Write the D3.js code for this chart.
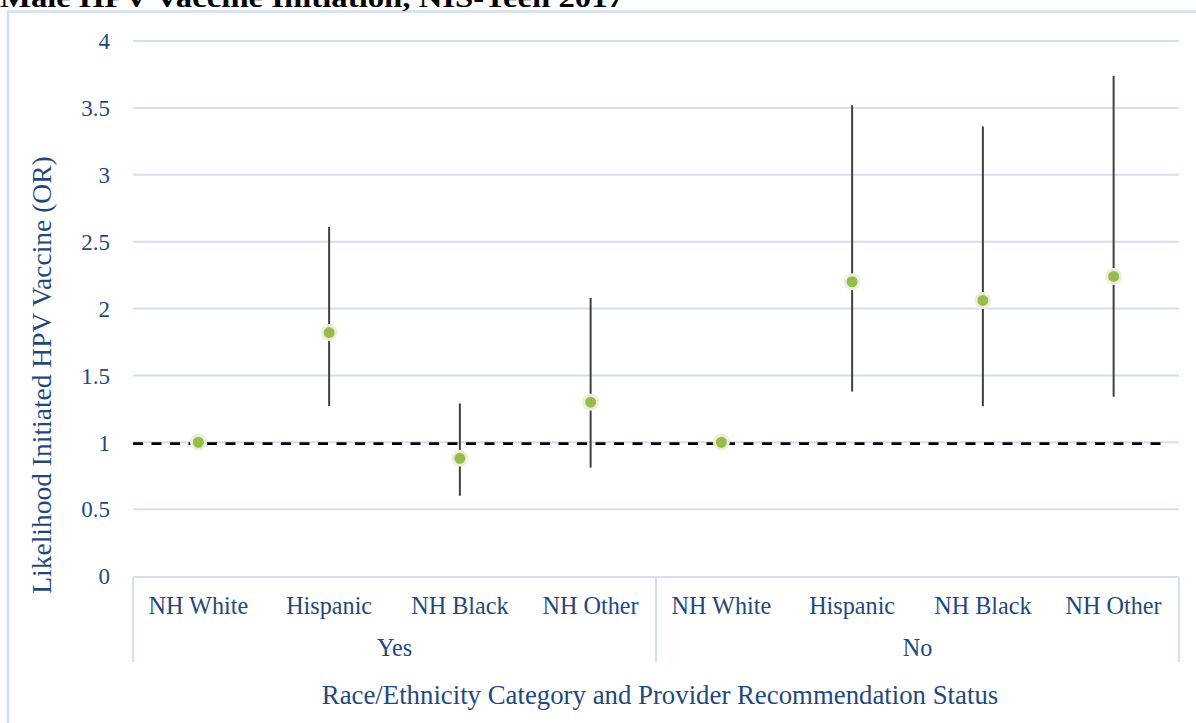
<!DOCTYPE html>
<html>
<head>
<meta charset="utf-8">
<script src="https://cdn.jsdelivr.net/npm/d3@7"></script>
<style>
  html, body { margin: 0; padding: 0; background: #fff; }
  svg { display: block; }
</style>
</head>
<body>
<svg id="chart" width="1196" height="723"></svg>
<script>
// ---- data ----
const categories = ["NH White", "Hispanic", "NH Black", "NH Other", "NH White", "Hispanic", "NH Black", "NH Other"];
const groups = ["Yes", "Yes", "Yes", "Yes", "No", "No", "No", "No"];
const groupLabels = ["Yes", "No"];
const oddsRatio = [1.00, 1.82, 0.88, 1.30, 1.00, 2.20, 2.06, 2.24];
const ciLower = [null, 1.27, 0.60, 0.81, null, 1.38, 1.27, 1.34];
const ciUpper = [null, 2.61, 1.29, 2.08, null, 3.52, 3.36, 3.74];
const yTicks = [0, 0.5, 1, 1.5, 2, 2.5, 3, 3.5, 4];
const referenceValue = 0.99;
const titleText = "Male HPV Vaccine Initiation, NIS-Teen 2017";
const yTitle = "Likelihood Initiated HPV Vaccine (OR)";
const xTitle = "Race/Ethnicity Category and Provider Recommendation Status";

// ---- layout ----
const svg = d3.select("#chart");
const textColor = "#1F497D";
const gridColor = "#D3E0F1";
const font = "'Liberation Serif', 'Times New Roman', serif";
const plot = { left: 133, right: 1179, top: 41, bottom: 576 };

const idx = d3.range(categories.length);
const x = d3.scaleBand().domain(idx).range([plot.left, plot.right]).paddingInner(0).paddingOuter(0);
const y = d3.scaleLinear().domain([0, 4]).range([plot.bottom, plot.top]);

// chart frame border
svg.append("path")
  .attr("d", `M8,723 L8,11.5 L1196,11.5`)
  .attr("fill", "none").attr("stroke", gridColor).attr("stroke-width", 2.5);

// title (partially clipped at top)
svg.append("text")
  .attr("x", 0).attr("y", 7)
  .attr("font-family", font).attr("font-weight", "bold").attr("font-size", 28)
  .attr("fill", "#000")
  .attr("textLength", 624).attr("lengthAdjust", "spacingAndGlyphs")
  .text(titleText);

// gridlines
svg.append("g").selectAll("line").data(yTicks.filter(d => d > 0)).join("line")
  .attr("x1", plot.left).attr("x2", plot.right)
  .attr("y1", d => y(d)).attr("y2", d => y(d))
  .attr("stroke", gridColor).attr("stroke-width", 2);

// y axis (labels only)
const yAxis = d3.axisLeft(y).tickValues(yTicks).tickSize(0).tickPadding(0).tickFormat(d3.format("~g"));
const gy = svg.append("g").attr("transform", `translate(110,0)`).call(yAxis);
gy.select(".domain").remove();
gy.attr("font-family", font);
gy.selectAll("text")
  .attr("font-family", font).attr("font-size", 23).attr("fill", textColor).attr("dy", "0.34em");

// x axis line & separators
svg.append("line")
  .attr("x1", plot.left).attr("x2", plot.right)
  .attr("y1", y(0) + 1).attr("y2", y(0) + 1)
  .attr("stroke", gridColor).attr("stroke-width", 2);
const sepX = [plot.left, x(4), plot.right];
svg.append("g").selectAll("line").data(sepX).join("line")
  .attr("x1", d => d).attr("x2", d => d)
  .attr("y1", y(0) + 1).attr("y2", 662)
  .attr("stroke", gridColor).attr("stroke-width", 2);

// category labels
svg.append("g").selectAll("text").data(idx).join("text")
  .attr("x", i => x(i) + x.bandwidth() / 2).attr("y", 614)
  .attr("text-anchor", "middle")
  .attr("font-family", font).attr("font-size", 24.2).attr("fill", textColor)
  .text(i => categories[i]);

// group labels
groupLabels.forEach(g => {
  const members = idx.filter(i => groups[i] === g);
  const cx = (x(members[0]) + x(members[members.length - 1]) + x.bandwidth()) / 2;
  svg.append("text")
    .attr("x", cx).attr("y", 656)
    .attr("text-anchor", "middle")
    .attr("font-family", font).attr("font-size", 24.2).attr("fill", textColor)
    .text(g);
});

// axis titles
svg.append("text")
  .attr("transform", `translate(51,375) rotate(-90)`)
  .attr("text-anchor", "middle")
  .attr("font-family", font).attr("font-size", 27.5).attr("fill", textColor)
  .text(yTitle);
svg.append("text")
  .attr("x", 660).attr("y", 704)
  .attr("text-anchor", "middle")
  .attr("font-family", font).attr("font-size", 26.8).attr("fill", textColor)
  .text(xTitle);

// reference dashed line
svg.append("line")
  .attr("x1", plot.left).attr("x2", 1168)
  .attr("y1", y(referenceValue)).attr("y2", y(referenceValue))
  .attr("stroke", "#000").attr("stroke-width", 2.8)
  .attr("stroke-dasharray", "10,8.5");

// error bars
svg.append("g").selectAll("line").data(idx.filter(i => ciLower[i] !== null)).join("line")
  .attr("x1", i => x(i) + x.bandwidth() / 2).attr("x2", i => x(i) + x.bandwidth() / 2)
  .attr("y1", i => y(ciLower[i])).attr("y2", i => y(ciUpper[i]))
  .attr("stroke", "#404040").attr("stroke-width", 2);

// points
svg.append("g").selectAll("circle").data(idx).join("circle")
  .attr("cx", i => x(i) + x.bandwidth() / 2)
  .attr("cy", i => y(oddsRatio[i]))
  .attr("r", 7)
  .attr("fill", "#96BC4B")
  .attr("stroke", "#EEEEDC").attr("stroke-width", 3);
</script>
</body>
</html>
